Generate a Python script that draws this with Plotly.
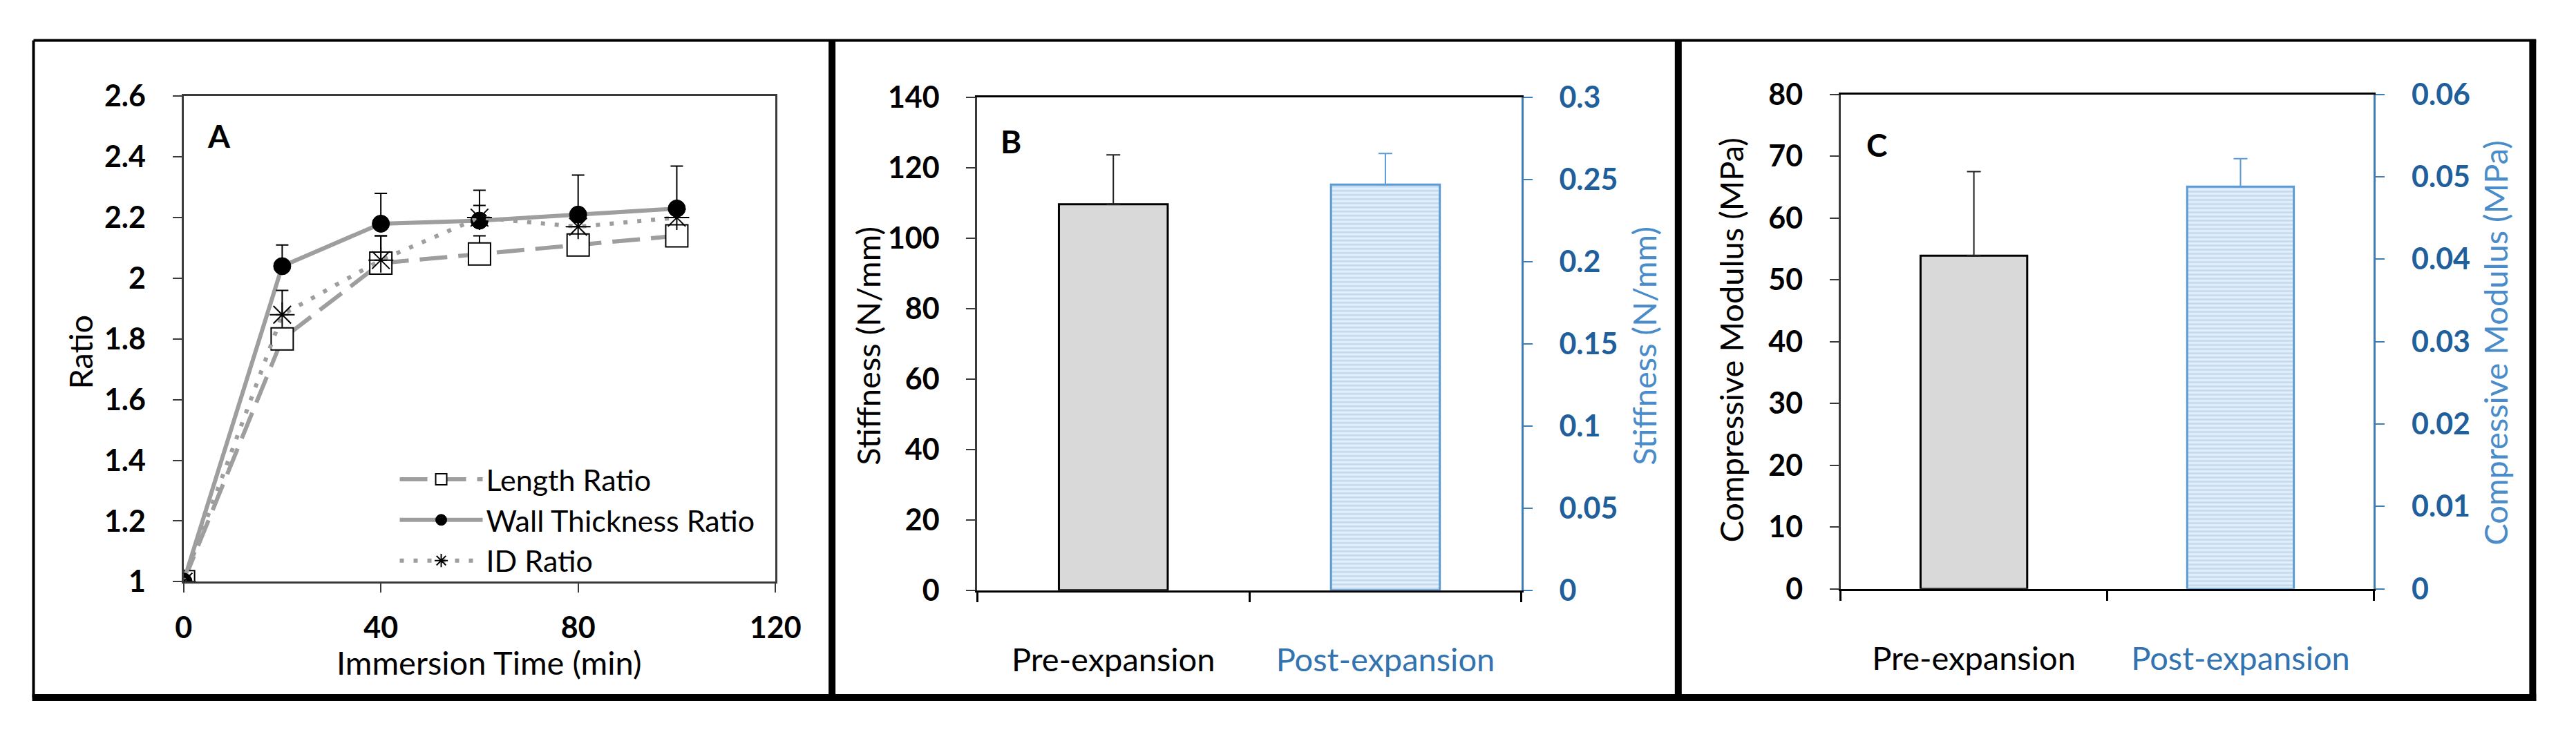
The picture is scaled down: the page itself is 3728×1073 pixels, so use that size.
import plotly.graph_objects as go

# ---------------- data ----------------
time_min = [0, 20, 40, 60, 80, 100]
length_ratio = [1.00, 1.80, 2.05, 2.08, 2.11, 2.14]
length_err = [0.00, 0.03, 0.09, 0.06, 0.03, 0.02]
wall_ratio = [1.00, 2.04, 2.18, 2.19, 2.21, 2.23]
wall_err = [0.00, 0.07, 0.10, 0.10, 0.13, 0.14]
id_ratio = [1.00, 1.88, 2.06, 2.20, 2.17, 2.20]
id_err = [0.00, 0.08, 0.08, 0.04, 0.03, 0.02]

ratio_ticks = [1.0, 1.2, 1.4, 1.6, 1.8, 2.0, 2.2, 2.4, 2.6]
ratio_ticktext = ["1", "1.2", "1.4", "1.6", "1.8", "2", "2.2", "2.4", "2.6"]
time_ticks = [0, 40, 80, 120]

categories = ["Pre-expansion", "Post-expansion"]

stiff_pre = [109.7]
stiff_pre_err = [14.0]
stiff_post = [0.247]
stiff_post_err = [0.019]
stiff_right_ticks = [0, 0.05, 0.1, 0.15, 0.2, 0.25, 0.3]
stiff_right_text = ["0", "0.05", "0.1", "0.15", "0.2", "0.25", "0.3"]

mod_pre = [53.9]
mod_pre_err = [13.6]
mod_post = [0.0488]
mod_post_err = [0.0034]
mod_right_ticks = [0, 0.01, 0.02, 0.03, 0.04, 0.05, 0.06]
mod_right_text = ["0", "0.01", "0.02", "0.03", "0.04", "0.05", "0.06"]

# ---------------- style ----------------
W, H = 3728, 1073
FONT = "Lato"
FS_TICK = 43
FS_TITLE = 47
FS_LEG = 43
AX = "#3a3a3a"
LINEGRAY = "#9e9e9e"
BLUE_TICK = "#1f5f9b"
BLUE_TITLE = "#4a8cc9"
BLUE_CAT = "#3373b0"
BLUE_AXIS = "#3f7db8"
BLUE_BAR = "#5b9bd5"


def px_x(p):
    return p / W


def px_y(p):
    return 1 - p / H


fig = go.Figure()

# ---------- Panel A ----------
fig.add_trace(go.Scatter(
    x=time_min, y=length_ratio, name="Length Ratio", mode="lines+markers",
    line=dict(color=LINEGRAY, width=6, dash="40px,16px"),
    marker=dict(symbol="square", size=32, color="white", line=dict(color="black", width=2)),
    error_y=dict(type="data", symmetric=False, array=length_err, arrayminus=[0] * 6,
                 color="black", thickness=2, width=9),
    xaxis="x", yaxis="y"))
fig.add_trace(go.Scatter(
    x=time_min, y=wall_ratio, name="Wall Thickness Ratio", mode="lines+markers",
    line=dict(color=LINEGRAY, width=6),
    marker=dict(symbol="circle", size=25, color="black", line=dict(color="black", width=1)),
    error_y=dict(type="data", symmetric=False, array=wall_err, arrayminus=[0] * 6,
                 color="black", thickness=2, width=9),
    xaxis="x", yaxis="y"))
fig.add_trace(go.Scatter(
    x=time_min, y=id_ratio, name="ID Ratio", mode="lines+markers",
    line=dict(color=LINEGRAY, width=6, dash="6px,14px"),
    marker=dict(symbol="asterisk-open", size=30, color="black", line=dict(color="black", width=2)),
    error_y=dict(type="data", symmetric=False, array=id_err, arrayminus=[0] * 6,
                 color="black", thickness=2, width=9),
    xaxis="x", yaxis="y"))

# ---------- Panel B ----------
fig.add_trace(go.Bar(
    x=[categories[0]], y=stiff_pre, width=0.4, showlegend=False,
    marker=dict(color="#d9d9d9", line=dict(color="black", width=3)),
    error_y=dict(type="data", symmetric=False, array=stiff_pre_err, arrayminus=[0],
                 color="#222222", thickness=2, width=10),
    xaxis="x2", yaxis="y2"))
fig.add_trace(go.Bar(
    x=[categories[1]], y=stiff_post, width=0.4, showlegend=False,
    marker=dict(color="#e3eef9", line=dict(color=BLUE_BAR, width=3),
                pattern=dict(shape="-", fgcolor="#9bc2e6", bgcolor="#e6f0fa", size=6, solidity=0.45)),
    error_y=dict(type="data", symmetric=False, array=stiff_post_err, arrayminus=[0],
                 color=BLUE_BAR, thickness=2, width=10),
    xaxis="x2", yaxis="y3"))

# ---------- Panel C ----------
fig.add_trace(go.Bar(
    x=[categories[0]], y=mod_pre, width=0.4, showlegend=False,
    marker=dict(color="#d9d9d9", line=dict(color="black", width=3)),
    error_y=dict(type="data", symmetric=False, array=mod_pre_err, arrayminus=[0],
                 color="#222222", thickness=2, width=10),
    xaxis="x3", yaxis="y4"))
fig.add_trace(go.Bar(
    x=[categories[1]], y=mod_post, width=0.4, showlegend=False,
    marker=dict(color="#e3eef9", line=dict(color=BLUE_BAR, width=3),
                pattern=dict(shape="-", fgcolor="#9bc2e6", bgcolor="#e6f0fa", size=6, solidity=0.45)),
    error_y=dict(type="data", symmetric=False, array=mod_post_err, arrayminus=[0],
                 color=BLUE_BAR, thickness=2, width=10),
    xaxis="x3", yaxis="y5"))

bold_tick = dict(family=FONT, size=FS_TICK, color="black", weight="bold")
blue_tick = dict(family=FONT, size=FS_TICK, color=BLUE_TICK, weight="bold")
cat_font = dict(family=FONT, size=FS_TITLE, color="black")

cat_text = [categories[0], '<span style="color:%s">%s</span>' % (BLUE_CAT, categories[1])]

common_lin = dict(showgrid=False, zeroline=False, showline=True, linecolor=AX, linewidth=3,
                  ticks="outside", ticklen=13, tickwidth=2, tickcolor=AX)

fig.update_layout(
    width=W, height=H, margin=dict(l=0, r=0, t=0, b=0),
    paper_bgcolor="white", plot_bgcolor="white",
    font=dict(family=FONT, size=FS_TICK, color="black"),
    barmode="overlay",
    showlegend=True,
    legend=dict(x=px_x(569), y=px_y(664), xanchor="left", yanchor="top",
                bgcolor="rgba(0,0,0,0)", font=dict(family=FONT, size=FS_LEG, color="black"),
                itemwidth=120, tracegroupgap=0),
    # Panel A
    xaxis=dict(domain=[px_x(257), px_x(1125)], range=[0, 120], tickvals=time_ticks,
               anchor="y", mirror=True, tickfont=bold_tick, ticklabelstandoff=14,
               **common_lin),
    yaxis=dict(domain=[px_y(856), px_y(118)], range=[1, 2.6], tickvals=ratio_ticks,
               ticktext=ratio_ticktext, anchor="x", mirror=True, tickfont=bold_tick,
               ticklabelstandoff=30, **common_lin),
    # Panel B
    xaxis2=dict(domain=[px_x(1421), px_x(2219)], type="category", categoryorder="array",
                categoryarray=categories, tickvals=categories, ticktext=cat_text,
                range=[-0.5, 1.5], anchor="y2", mirror=True, tickson="boundaries",
                tickfont=cat_font, ticklabelstandoff=58,
                showgrid=False, zeroline=False, showline=True, linecolor="black", linewidth=3,
                ticks="outside", ticklen=14, tickwidth=3, tickcolor="black"),
    yaxis2=dict(domain=[px_y(869), px_y(120)], range=[0, 140], dtick=20, anchor="x2",
                tickfont=bold_tick, ticklabelstandoff=30, **common_lin),
    yaxis3=dict(range=[0, 0.3], tickvals=stiff_right_ticks, ticktext=stiff_right_text,
                overlaying="y2", side="right", anchor="x2",
                tickfont=blue_tick, ticklabelstandoff=30,
                showgrid=False, zeroline=False, showline=True, linecolor=BLUE_AXIS, linewidth=3,
                ticks="outside", ticklen=13, tickwidth=2, tickcolor=BLUE_AXIS),
    # Panel C
    xaxis3=dict(domain=[px_x(2687), px_x(3469)], type="category", categoryorder="array",
                categoryarray=categories, tickvals=categories, ticktext=cat_text,
                range=[-0.5, 1.5], anchor="y4", mirror=True, tickson="boundaries",
                tickfont=cat_font, ticklabelstandoff=58,
                showgrid=False, zeroline=False, showline=True, linecolor="black", linewidth=3,
                ticks="outside", ticklen=14, tickwidth=3, tickcolor="black"),
    yaxis4=dict(domain=[px_y(867), px_y(115)], range=[0, 80], dtick=10, anchor="x3",
                tickfont=bold_tick, ticklabelstandoff=30, **common_lin),
    yaxis5=dict(range=[0, 0.06], tickvals=mod_right_ticks, ticktext=mod_right_text,
                overlaying="y4", side="right", anchor="x3",
                tickfont=blue_tick, ticklabelstandoff=30,
                showgrid=False, zeroline=False, showline=True, linecolor=BLUE_AXIS, linewidth=3,
                ticks="outside", ticklen=13, tickwidth=2, tickcolor=BLUE_AXIS),
)

# axis titles placed at measured pixel centres
axis_titles = [
    ("Ratio", 105, 507, -90, "black"),
    ("Immersion Time (min)", 705, 978, 0, "black"),
    ("Stiffness (N/mm)", 1261, 497, -90, "black"),
    ("Stiffness (N/mm)", 2399, 497, -90, BLUE_TITLE),
    ("Compressive Modulus (MPa)", 2526, 489, -90, "black"),
    ("Compressive Modulus (MPa)", 3647, 493, -90, BLUE_TITLE),
]
for txt, cx, cy, ang, col in axis_titles:
    fig.add_annotation(text=txt, xref="paper", yref="paper", x=px_x(cx), y=px_y(cy),
                       xanchor="center", yanchor="middle", textangle=ang, showarrow=False,
                       font=dict(family=FONT, size=FS_TITLE, color=col))

# panel letters
for txt, xref, yref, xx, yy in [("A", "x domain", "y domain", 0.038, 0.919),
                                ("B", "x2 domain", "y2 domain", 0.040, 0.911),
                                ("C", "x3 domain", "y4 domain", 0.046, 0.898)]:
    fig.add_annotation(text="<b>%s</b>" % txt, xref=xref, yref=yref, x=xx, y=yy,
                       xanchor="left", yanchor="middle", showarrow=False,
                       font=dict(family=FONT, size=46, color="black"))

# panel frames (thin top/left, thick right/bottom)
frame = "black"
fig.add_shape(type="line", xref="paper", yref="paper", x0=px_x(37), x1=px_x(3707), y0=px_y(33), y1=px_y(33),
              line=dict(color=frame, width=4))
fig.add_shape(type="line", xref="paper", yref="paper", x0=px_x(37), x1=px_x(37), y0=px_y(33), y1=px_y(1032),
              line=dict(color=frame, width=4))
for xv in [1208, 2449, 3702]:
    fig.add_shape(type="line", xref="paper", yref="paper", x0=px_x(xv), x1=px_x(xv), y0=px_y(33), y1=px_y(1037),
                  line=dict(color=frame, width=10))
fig.add_shape(type="line", xref="paper", yref="paper", x0=px_x(35), x1=px_x(3707), y0=px_y(1032), y1=px_y(1032),
              line=dict(color=frame, width=10))

fig.write_html("out.html", config={"displayModeBar": False},
               post_script="document.body.style.margin='0px';document.body.style.overflow='hidden';")
